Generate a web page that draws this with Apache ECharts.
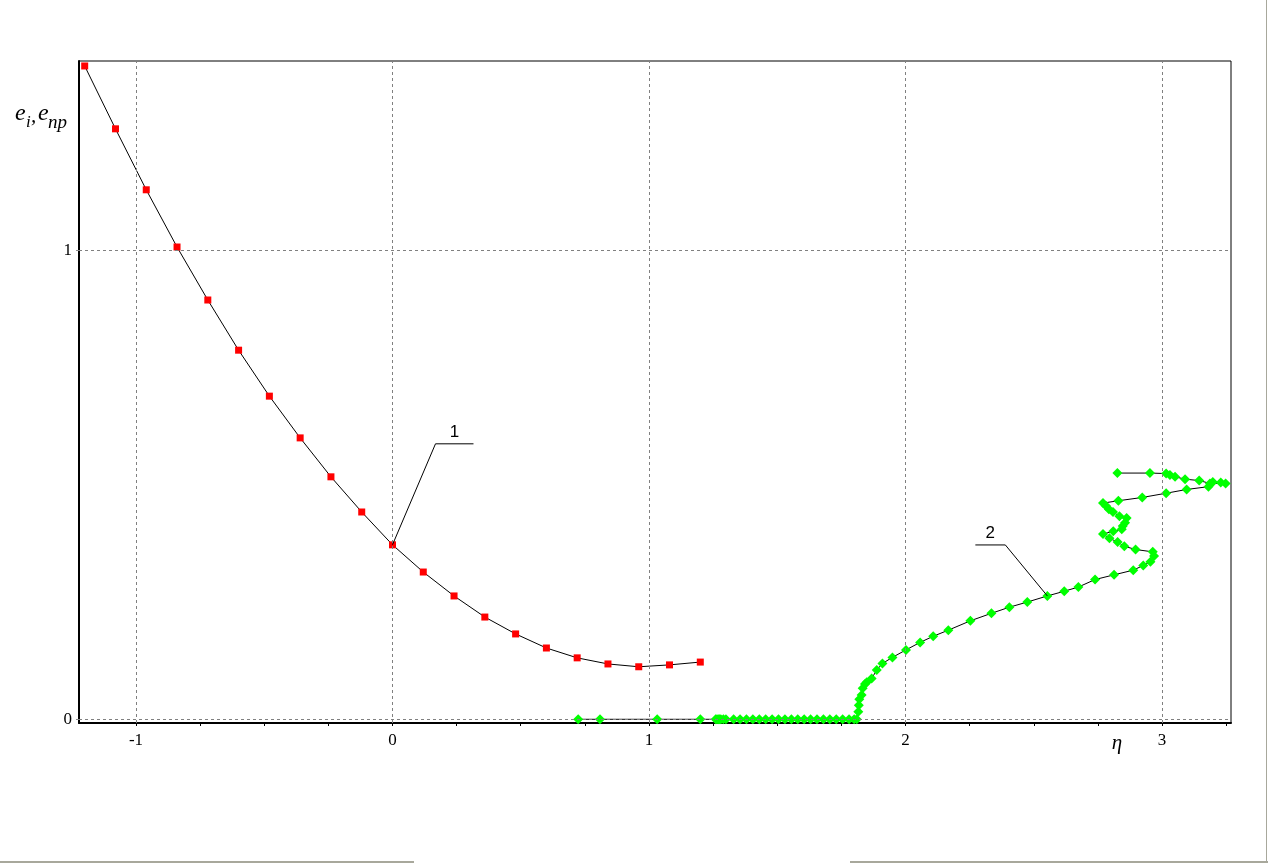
<!DOCTYPE html>
<html>
<head>
<meta charset="utf-8">
<script src="https://cdn.jsdelivr.net/npm/echarts@6.0.0/dist/echarts.min.js"></script>
<style>
html, body { margin: 0; padding: 0; background: #fff; }
#main { width: 1268px; height: 864px; }
</style>
</head>
<body>
<div id="main"></div>
<script>
// curve 1 (red squares)
var redX = [-1.2, -1.08, -0.96, -0.84, -0.72, -0.6, -0.48, -0.36, -0.24, -0.12, 0,
            0.12, 0.24, 0.36, 0.48, 0.6, 0.72, 0.84, 0.96, 1.08, 1.2];
var redY = [1.393, 1.259, 1.129, 1.007, 0.894, 0.787, 0.689, 0.600, 0.517, 0.442, 0.372,
            0.314, 0.263, 0.218, 0.182, 0.152, 0.131, 0.118, 0.112, 0.116, 0.122];

// curve 2 (green diamonds), in drawing order
var greenX = [0.724, 0.809, 1.032, 1.2,
  1.26, 1.265, 1.27, 1.275, 1.28, 1.29, 1.30, 1.33, 1.355, 1.38, 1.405, 1.43, 1.455, 1.48,
  1.505, 1.53, 1.555, 1.58, 1.605, 1.63, 1.655, 1.68, 1.705, 1.73, 1.755, 1.78, 1.80, 1.81,
  1.816, 1.818, 1.820, 1.829, 1.833, 1.842, 1.849, 1.868, 1.888, 1.910, 1.949, 2.002, 2.057,
  2.108, 2.167, 2.253, 2.335, 2.405, 2.475, 2.553, 2.619, 2.674, 2.739, 2.813, 2.888, 2.927,
  2.955, 2.969, 2.964, 2.897, 2.853, 2.827, 2.795, 2.770, 2.810, 2.843, 2.847, 2.856, 2.862,
  2.834, 2.809, 2.793, 2.782, 2.770, 2.830, 2.923, 3.016, 3.096, 3.181, 3.198, 3.229, 3.248,
  3.187, 3.145, 3.090, 3.051, 3.031, 3.016, 2.953, 2.826];
var greenY = [0, 0, 0, 0,
  0, 0, 0, 0, 0, 0, 0, 0, 0, 0, 0, 0, 0, 0,
  0, 0, 0, 0, 0, 0, 0, 0, 0, 0, 0, 0, 0, 0,
  0.016, 0.030, 0.043, 0.052, 0.066, 0.075, 0.079, 0.087, 0.105, 0.119, 0.132, 0.148, 0.164,
  0.177, 0.190, 0.210, 0.226, 0.239, 0.250, 0.263, 0.273, 0.282, 0.298, 0.308, 0.318, 0.328,
  0.336, 0.348, 0.357, 0.362, 0.369, 0.378, 0.386, 0.395, 0.401, 0.405, 0.412, 0.419, 0.429,
  0.433, 0.442, 0.448, 0.455, 0.461, 0.466, 0.473, 0.482, 0.490, 0.496, 0.506, 0.505, 0.503,
  0.503, 0.509, 0.512, 0.517, 0.521, 0.524, 0.525, 0.525];

// axis ticks and labels
var xTicks = [-1, 0, 1, 2, 3];
var xMinorTicks = [-1, -0.75, -0.5, -0.25, 0, 0.25, 0.5, 0.75, 1, 1.25, 1.5, 1.75,
                   2, 2.25, 2.5, 2.75, 3, 3.25];
var yTicks = [0, 1];

// curve labels and the point each one points at
var curveLabels = ['1', '2'];
var labelAnchors = [[redX[10], redY[10]], [greenX[51], greenY[51]]];

var chart = echarts.init(document.getElementById('main'));

function pairs(xs, ys) {
  return xs.map(function (x, i) { return [x, ys[i]]; });
}

var serif = 'Liberation Serif';

chart.setOption({
  animation: false,
  backgroundColor: '#fff',
  grid: {
    left: 79, right: 37, top: 61, bottom: 141,
    show: true, borderColor: '#000', borderWidth: 1
  },
  xAxis: {
    type: 'value',
    min: -1.2222,
    max: 3.269,
    axisLine: { onZero: false, lineStyle: { color: '#000', width: 2 } },
    axisTick: { show: true, customValues: xMinorTicks, length: 3, lineStyle: { color: '#000' } },
    axisLabel: {
      customValues: xTicks, color: '#000', fontFamily: serif, fontSize: 17, margin: 9,
      formatter: function (v) { return String(v); }
    },
    splitLine: { show: false }
  },
  yAxis: {
    type: 'value',
    min: -0.0079,
    max: 1.4036,
    axisLine: { onZero: false, lineStyle: { color: '#000', width: 2 } },
    axisTick: { show: true, customValues: yTicks, length: 3, lineStyle: { color: '#888' } },
    axisLabel: {
      customValues: yTicks, color: '#000', fontFamily: serif, fontSize: 17, margin: 7,
      formatter: function (v) { return String(v); }
    },
    splitLine: { show: false }
  },
  series: [
    {
      name: 'grid',
      type: 'line',
      data: [],
      z: 1,
      silent: true,
      markLine: {
        silent: true,
        symbol: 'none',
        label: { show: false },
        lineStyle: { color: '#808080', type: [3, 3], width: 1 },
        data: xTicks.map(function (v) { return { xAxis: v }; })
          .concat(yTicks.map(function (v) { return { yAxis: v }; }))
      }
    },
    {
      name: '1',
      type: 'line',
      z: 3,
      data: pairs(redX, redY),
      symbol: 'rect',
      symbolSize: 7,
      itemStyle: { color: '#ff0000' },
      lineStyle: { color: '#000', width: 1 }
    },
    {
      name: '2',
      type: 'line',
      z: 3,
      data: pairs(greenX, greenY),
      symbol: 'diamond',
      symbolSize: 10,
      itemStyle: { color: '#00ff00' },
      lineStyle: { color: '#000', width: 1 }
    }
  ]
});

// annotations: axis names, curve leaders, window frame
var g = [
  { type: 'text', x: 15, y: 114, style: { text: 'e', font: 'italic 24px ' + serif, fill: '#000', verticalAlign: 'middle' } },
  { type: 'text', x: 26, y: 123, style: { text: 'i', font: 'italic 17px ' + serif, fill: '#000', verticalAlign: 'middle' } },
  { type: 'text', x: 31, y: 116, style: { text: ',', font: 'italic 21px ' + serif, fill: '#000', verticalAlign: 'middle' } },
  { type: 'text', x: 38, y: 114, style: { text: 'e', font: 'italic 24px ' + serif, fill: '#000', verticalAlign: 'middle' } },
  { type: 'text', x: 48, y: 123, style: { text: 'пр', font: 'italic 19px ' + serif, fill: '#000', verticalAlign: 'middle' } },
  { type: 'text', x: 1117, y: 743, style: { text: 'η', font: 'italic 21px ' + serif, fill: '#000', textAlign: 'center', verticalAlign: 'middle' } },
  { type: 'rect', shape: { x: 0, y: 861, width: 414, height: 2 }, style: { fill: '#a8a89c' } },
  { type: 'rect', shape: { x: 850, y: 861, width: 418, height: 2 }, style: { fill: '#a8a89c' } },
  { type: 'rect', shape: { x: 1266, y: 0, width: 1, height: 863 }, style: { fill: '#a8a89c' } }
];

var leaderOffsets = [[43, -101, 38], [-42, -51, -30]];
labelAnchors.forEach(function (pt, i) {
  var p = chart.convertToPixel({ gridIndex: 0 }, pt);
  var o = leaderOffsets[i];
  var ex = p[0] + o[0], ey = p[1] + o[1];
  var fx = ex + o[2];
  g.push({ type: 'polyline', shape: { points: [p, [ex, ey], [fx, ey]] }, style: { stroke: '#000', lineWidth: 1, fill: null }, z: 10 });
  g.push({ type: 'text', x: (ex + fx) / 2, y: ey - 3, z: 10,
    style: { text: curveLabels[i], font: '17px Liberation Sans', fill: '#000', textAlign: 'center', verticalAlign: 'bottom' } });
});

chart.setOption({ graphic: g });
</script>
</body>
</html>
